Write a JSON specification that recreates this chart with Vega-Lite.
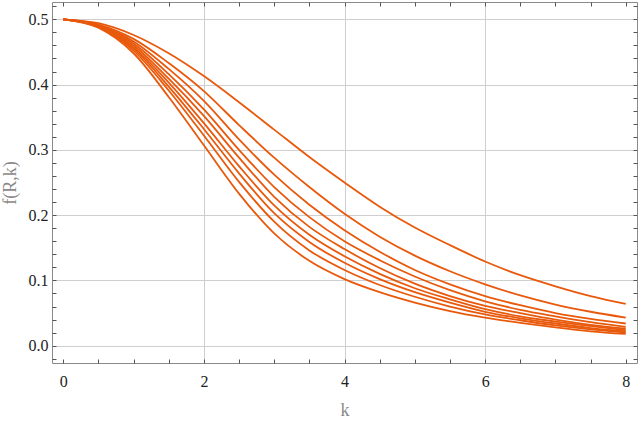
{
  "$schema": "https://vega.github.io/schema/vega-lite/v6.json",
  "width": 585,
  "height": 361,
  "autosize": "none",
  "padding": {"left": 52, "top": 2, "right": 3, "bottom": 58},
  "config": {
    "font": "Liberation Serif",
    "view": {"stroke": "#8a8a8a", "strokeWidth": 1},
    "axis": {
      "labelFont": "Liberation Serif",
      "titleFont": "Liberation Serif",
      "labelFontSize": 16,
      "titleFontSize": 18,
      "labelColor": "#222222",
      "titleColor": "#8a8a8a",
      "titleFontWeight": "normal",
      "gridColor": "#cfcfcf",
      "gridWidth": 1,
      "tickColor": "#555555",
      "tickWidth": 1
    }
  },
  "data": {
    "values": [
      {"curve": "1", "k": 0, "f": 0.5}, {"curve": "1", "k": 0.5, "f": 0.494}, {"curve": "1", "k": 1, "f": 0.476}, {"curve": "1", "k": 1.5, "f": 0.448}, {"curve": "1", "k": 2, "f": 0.413}, {"curve": "1", "k": 2.5, "f": 0.373}, {"curve": "1", "k": 3, "f": 0.331}, {"curve": "1", "k": 3.5, "f": 0.289}, {"curve": "1", "k": 4, "f": 0.25}, {"curve": "1", "k": 4.5, "f": 0.213}, {"curve": "1", "k": 5, "f": 0.181}, {"curve": "1", "k": 5.5, "f": 0.154}, {"curve": "1", "k": 6, "f": 0.129}, {"curve": "1", "k": 6.5, "f": 0.108}, {"curve": "1", "k": 7, "f": 0.091}, {"curve": "1", "k": 7.5, "f": 0.076}, {"curve": "1", "k": 8, "f": 0.064},
      {"curve": "2", "k": 0, "f": 0.5}, {"curve": "2", "k": 0.5, "f": 0.492}, {"curve": "2", "k": 1, "f": 0.47}, {"curve": "2", "k": 1.5, "f": 0.433}, {"curve": "2", "k": 2, "f": 0.39}, {"curve": "2", "k": 2.5, "f": 0.338}, {"curve": "2", "k": 3, "f": 0.288}, {"curve": "2", "k": 3.5, "f": 0.243}, {"curve": "2", "k": 4, "f": 0.202}, {"curve": "2", "k": 4.5, "f": 0.167}, {"curve": "2", "k": 5, "f": 0.138}, {"curve": "2", "k": 5.5, "f": 0.114}, {"curve": "2", "k": 6, "f": 0.094}, {"curve": "2", "k": 6.5, "f": 0.077}, {"curve": "2", "k": 7, "f": 0.063}, {"curve": "2", "k": 7.5, "f": 0.052}, {"curve": "2", "k": 8, "f": 0.043},
      {"curve": "3", "k": 0, "f": 0.5}, {"curve": "3", "k": 0.5, "f": 0.491}, {"curve": "3", "k": 1, "f": 0.466}, {"curve": "3", "k": 1.5, "f": 0.424}, {"curve": "3", "k": 2, "f": 0.375}, {"curve": "3", "k": 2.5, "f": 0.316}, {"curve": "3", "k": 3, "f": 0.262}, {"curve": "3", "k": 3.5, "f": 0.216}, {"curve": "3", "k": 4, "f": 0.177}, {"curve": "3", "k": 4.5, "f": 0.144}, {"curve": "3", "k": 5, "f": 0.116}, {"curve": "3", "k": 5.5, "f": 0.094}, {"curve": "3", "k": 6, "f": 0.076}, {"curve": "3", "k": 6.5, "f": 0.062}, {"curve": "3", "k": 7, "f": 0.05}, {"curve": "3", "k": 7.5, "f": 0.041}, {"curve": "3", "k": 8, "f": 0.034},
      {"curve": "4", "k": 0, "f": 0.5}, {"curve": "4", "k": 0.5, "f": 0.491}, {"curve": "4", "k": 1, "f": 0.463}, {"curve": "4", "k": 1.5, "f": 0.416}, {"curve": "4", "k": 2, "f": 0.362}, {"curve": "4", "k": 2.5, "f": 0.3}, {"curve": "4", "k": 3, "f": 0.243}, {"curve": "4", "k": 3.5, "f": 0.197}, {"curve": "4", "k": 4, "f": 0.16}, {"curve": "4", "k": 4.5, "f": 0.131}, {"curve": "4", "k": 5, "f": 0.106}, {"curve": "4", "k": 5.5, "f": 0.085}, {"curve": "4", "k": 6, "f": 0.068}, {"curve": "4", "k": 6.5, "f": 0.055}, {"curve": "4", "k": 7, "f": 0.045}, {"curve": "4", "k": 7.5, "f": 0.036}, {"curve": "4", "k": 8, "f": 0.029},
      {"curve": "5", "k": 0, "f": 0.5}, {"curve": "5", "k": 0.5, "f": 0.49}, {"curve": "5", "k": 1, "f": 0.46}, {"curve": "5", "k": 1.5, "f": 0.409}, {"curve": "5", "k": 2, "f": 0.352}, {"curve": "5", "k": 2.5, "f": 0.288}, {"curve": "5", "k": 3, "f": 0.228}, {"curve": "5", "k": 3.5, "f": 0.182}, {"curve": "5", "k": 4, "f": 0.148}, {"curve": "5", "k": 4.5, "f": 0.119}, {"curve": "5", "k": 5, "f": 0.095}, {"curve": "5", "k": 5.5, "f": 0.076}, {"curve": "5", "k": 6, "f": 0.061}, {"curve": "5", "k": 6.5, "f": 0.05}, {"curve": "5", "k": 7, "f": 0.04}, {"curve": "5", "k": 7.5, "f": 0.032}, {"curve": "5", "k": 8, "f": 0.026},
      {"curve": "6", "k": 0, "f": 0.5}, {"curve": "6", "k": 0.5, "f": 0.489}, {"curve": "6", "k": 1, "f": 0.457}, {"curve": "6", "k": 1.5, "f": 0.403}, {"curve": "6", "k": 2, "f": 0.341}, {"curve": "6", "k": 2.5, "f": 0.275}, {"curve": "6", "k": 3, "f": 0.215}, {"curve": "6", "k": 3.5, "f": 0.17}, {"curve": "6", "k": 4, "f": 0.137}, {"curve": "6", "k": 4.5, "f": 0.11}, {"curve": "6", "k": 5, "f": 0.088}, {"curve": "6", "k": 5.5, "f": 0.071}, {"curve": "6", "k": 6, "f": 0.056}, {"curve": "6", "k": 6.5, "f": 0.045}, {"curve": "6", "k": 7, "f": 0.037}, {"curve": "6", "k": 7.5, "f": 0.03}, {"curve": "6", "k": 8, "f": 0.024},
      {"curve": "7", "k": 0, "f": 0.5}, {"curve": "7", "k": 0.5, "f": 0.489}, {"curve": "7", "k": 1, "f": 0.455}, {"curve": "7", "k": 1.5, "f": 0.397}, {"curve": "7", "k": 2, "f": 0.332}, {"curve": "7", "k": 2.5, "f": 0.264}, {"curve": "7", "k": 3, "f": 0.203}, {"curve": "7", "k": 3.5, "f": 0.159}, {"curve": "7", "k": 4, "f": 0.127}, {"curve": "7", "k": 4.5, "f": 0.102}, {"curve": "7", "k": 5, "f": 0.082}, {"curve": "7", "k": 5.5, "f": 0.066}, {"curve": "7", "k": 6, "f": 0.052}, {"curve": "7", "k": 6.5, "f": 0.042}, {"curve": "7", "k": 7, "f": 0.034}, {"curve": "7", "k": 7.5, "f": 0.027}, {"curve": "7", "k": 8, "f": 0.022},
      {"curve": "8", "k": 0, "f": 0.5}, {"curve": "8", "k": 0.5, "f": 0.488}, {"curve": "8", "k": 1, "f": 0.452}, {"curve": "8", "k": 1.5, "f": 0.391}, {"curve": "8", "k": 2, "f": 0.322}, {"curve": "8", "k": 2.5, "f": 0.251}, {"curve": "8", "k": 3, "f": 0.19}, {"curve": "8", "k": 3.5, "f": 0.146}, {"curve": "8", "k": 4, "f": 0.116}, {"curve": "8", "k": 4.5, "f": 0.093}, {"curve": "8", "k": 5, "f": 0.075}, {"curve": "8", "k": 5.5, "f": 0.06}, {"curve": "8", "k": 6, "f": 0.048}, {"curve": "8", "k": 6.5, "f": 0.039}, {"curve": "8", "k": 7, "f": 0.031}, {"curve": "8", "k": 7.5, "f": 0.025}, {"curve": "8", "k": 8, "f": 0.02},
      {"curve": "9", "k": 0, "f": 0.5}, {"curve": "9", "k": 0.5, "f": 0.487}, {"curve": "9", "k": 1, "f": 0.448}, {"curve": "9", "k": 1.5, "f": 0.381}, {"curve": "9", "k": 2, "f": 0.307}, {"curve": "9", "k": 2.5, "f": 0.233}, {"curve": "9", "k": 3, "f": 0.172}, {"curve": "9", "k": 3.5, "f": 0.13}, {"curve": "9", "k": 4, "f": 0.102}, {"curve": "9", "k": 4.5, "f": 0.082}, {"curve": "9", "k": 5, "f": 0.066}, {"curve": "9", "k": 5.5, "f": 0.053}, {"curve": "9", "k": 6, "f": 0.043}, {"curve": "9", "k": 6.5, "f": 0.035}, {"curve": "9", "k": 7, "f": 0.028}, {"curve": "9", "k": 7.5, "f": 0.022}, {"curve": "9", "k": 8, "f": 0.018}
    ]
  },
  "resolve": {"axis": {"x": "independent", "y": "independent"}},
  "layer": [
    {
      "mark": {"type": "line", "color": "#e8590c", "strokeWidth": 1.8, "interpolate": "monotone"},
      "encoding": {
        "x": {
          "field": "k", "type": "quantitative",
          "scale": {"domain": [-0.16, 8.16], "nice": false, "zero": false},
          "axis": {"orient": "bottom", "values": [0, 2, 4, 6, 8], "ticks": false, "domain": false, "grid": false, "labelPadding": 10, "title": "k", "titlePadding": 12}
        },
        "y": {
          "field": "f", "type": "quantitative",
          "scale": {"domain": [-0.0265, 0.5265], "nice": false, "zero": false},
          "axis": {"orient": "left", "values": [0, 0.1, 0.2, 0.3, 0.4, 0.5], "format": ".1f", "ticks": false, "domain": false, "grid": true, "labelPadding": 4, "title": "f(R,k)", "titlePadding": 9}
        },
        "detail": {"field": "curve"}
      }
    },
    {
      "mark": {"type": "point", "opacity": 0},
      "encoding": {
        "x": {
          "field": "k", "type": "quantitative",
          "axis": {"orient": "bottom", "values": [0, 0.5, 1, 1.5, 2, 2.5, 3, 3.5, 4, 4.5, 5, 5.5, 6, 6.5, 7, 7.5, 8], "labels": false, "tickSize": -4, "domain": false, "grid": false, "title": null}
        },
        "y": {
          "field": "f", "type": "quantitative",
          "axis": {"orient": "left", "values": [-0.02, 0, 0.02, 0.04, 0.06, 0.08, 0.1, 0.12, 0.14, 0.16, 0.18, 0.2, 0.22, 0.24, 0.26, 0.28, 0.3, 0.32, 0.34, 0.36, 0.38, 0.4, 0.42, 0.44, 0.46, 0.48, 0.5, 0.52], "labels": false, "tickSize": -4, "domain": false, "grid": false, "title": null}
        }
      }
    },
    {
      "mark": {"type": "point", "opacity": 0},
      "encoding": {
        "x": {
          "field": "k", "type": "quantitative",
          "axis": {"orient": "bottom", "values": [2, 4, 6], "labels": false, "ticks": false, "domain": false, "grid": true, "title": null}
        },
        "y": {
          "field": "f", "type": "quantitative",
          "axis": {"orient": "right", "values": [-0.02, 0, 0.02, 0.04, 0.06, 0.08, 0.1, 0.12, 0.14, 0.16, 0.18, 0.2, 0.22, 0.24, 0.26, 0.28, 0.3, 0.32, 0.34, 0.36, 0.38, 0.4, 0.42, 0.44, 0.46, 0.48, 0.5, 0.52], "labels": false, "tickSize": -4, "domain": false, "grid": false, "title": null}
        }
      }
    },
    {
      "mark": {"type": "point", "opacity": 0},
      "encoding": {
        "x": {
          "field": "k", "type": "quantitative",
          "axis": {"orient": "top", "values": [0, 0.5, 1, 1.5, 2, 2.5, 3, 3.5, 4, 4.5, 5, 5.5, 6, 6.5, 7, 7.5, 8], "labels": false, "tickSize": -4, "domain": false, "grid": false, "title": null}
        },
        "y": {"field": "f", "type": "quantitative", "axis": null}
      }
    }
  ]
}
